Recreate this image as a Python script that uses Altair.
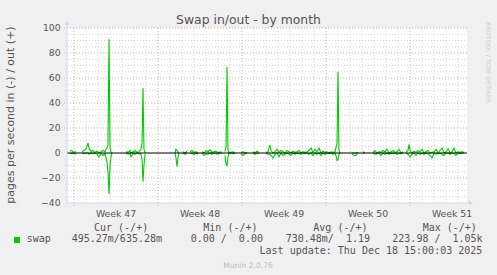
import altair as alt
import pandas as pd

# ---------------- data (days since Mon 17 Nov 2025 = start of Week 47) ----------------
days = [-0.33, -0.17, 0.0, 0.17, 0.42,
        0.67, 0.83, 1.0, 1.17, 1.25, 1.42, 1.58, 1.75, 1.92, 2.08, 2.25, 2.42, 2.58, 2.67, 2.75, 2.83, 2.92, 3.0, 3.08, 3.17, 3.75,
        4.33, 4.5, 4.67, 4.75, 4.92, 5.08, 5.25, 5.42, 5.58, 5.67, 5.75, 5.83, 5.92, 7.0,
        8.42, 8.5, 8.58, 8.67, 8.75, 8.9,
        9.08, 9.25, 9.42, 9.55,
        9.67, 9.83, 10.0, 10.17, 10.33, 10.5,
        10.67, 10.83, 11.0, 11.17, 11.33, 11.5, 11.67, 11.83, 12.0, 12.17, 12.33, 12.45,
        12.58, 12.67, 12.75, 12.83, 12.92, 13.08, 13.25, 13.42, 13.7,
        13.92, 14.08, 14.25, 14.42, 14.7,
        14.92, 15.08, 15.25, 15.42, 15.7,
        16.0, 16.17, 16.33, 16.42, 16.58, 16.75, 16.92, 17.08, 17.25, 17.42, 17.58, 17.75, 17.92, 18.08, 18.25, 18.42,
        18.58, 18.75, 18.92, 19.08, 19.25, 19.42, 19.58, 19.75, 19.92, 20.08, 20.25, 20.42, 20.58, 20.75, 20.92, 21.08,
        21.25, 21.42, 21.58, 21.75, 21.83, 21.92, 22.0, 22.08, 22.17, 22.6,
        23.17, 23.33, 23.5, 23.67, 23.85,
        24.08, 24.25, 24.6,
        24.92, 25.08, 25.25, 25.42, 25.58, 25.75, 25.92, 26.08, 26.25, 26.42, 26.58, 26.75, 26.92, 27.08, 27.25, 27.42, 27.55,
        27.67, 27.83, 27.92, 28.0, 28.17, 28.33, 28.5, 28.67, 28.83, 29.0, 29.17, 29.33, 29.5, 29.67, 29.83, 30.0,
        30.17, 30.33, 30.5, 30.67, 30.83, 31.0, 31.17, 31.33, 31.5, 31.67, 31.83, 32.0, 32.17, 32.33, 32.5]

swap_out = [1.5, 2.0, 0.5, 1.0, None,
            1, 2, 3, 8, 4, 1, 2, 0.5, 1.5, 0, 1, 2, 1, 3, 4, 6, 91, 5, 1, 0, None,
            1, 0.5, 2, 0, 1, 2, 0.5, 1, 3, 8, 52, 3, 0, None,
            0, 3, 2, 0.5, 0, None,
            1, 0, 1.5, None,
            1, 2, 0.5, 1, 0, None,
            1, 0, 2, 1, 2.5, 0.5, 1, 1.5, 0, 1, 0.5, None,
            1, 5, 69, 3, 0, 0.5, 1, 0, None,
            0, 1, 0, 0.5, None,
            1, 0, 1.5, 0.5, None,
            0, 1, 6.5, 2, 0, 1, 3, 0.5, 2, 1, 0, 2, 1, 0, 1.5, 0.5,
            1, 2, 0, 1, 0.5, 1, 2, 4, 0.5, 3, 1, 4, 0, 1.5, 0.5, 1,
            0, 1, 0.5, 1, 4, 8, 65, 2, 0, None,
            0, 0, 0, 0.5, None,
            1, 0, None,
            0.5, 2, 0, 1, 0.5, 2, 1, 3, 0, 1, 2, 0.5, 1, 3, 0, 1, None,
            0.5, 2, 7, 2, 0, 1.5, 0.5, 2, 1, 3, 0, 1, 2, 0, 0.5, 1,
            3, 0, 2, 4, 0, 1, 3.5, 0, 1, 4, 0, 1, 0.5, 1, 0.5]

swap_in = [0, -0.5, 0, -1.0, None,
           0, -0.5, 0, 0, -1, 0, -0.5, 0, -1, -3, -0.5, -2, -0.5, -4, -7, -15, -33, -10, -3, 0, None,
           0, -1, -0.5, -3, 0, -1, 0, -0.5, -1, -5, -23, -10, -1, None,
           0, -4, -11, -3, 0, None,
           0, -1, 0, None,
           -0.5, 0, -1.5, 0, -1, None,
           0, -2, -0.5, -1, 0, -1, 0, -0.5, -1, 0, 0, None,
           -2, -9, -10, -3, 0, 0, -0.5, 0, None,
           -1, -2, -0.5, 0, None,
           0, -1, 0, -0.5, None,
           0, -1, -1, -2, -4, -1, 0, -3, 0, -2, -1, 0, -1, -2, 0, -1,
           0, -0.5, -1, 0, -0.5, 0, -1, 0, -2, 0, -1, 0, -2, 0, -1, 0,
           -0.5, 0, -1, 0, -2, -6, -5, -1, 0, None,
           -1, -2, -2, 0, None,
           0, 0, None,
           0, -1, -0.5, 0, -2, 0, -1, 0, -1, 0, -0.5, 0, -1, 0, -0.5, 0, None,
           0, -1, -2, -3, -1, 0, -2, 0, -1, 0, -1, 0, -0.5, -2, -4, 0,
           -1, -0.5, 0, -1, -2, 0, 0, -1, 0, -0.5, -2, 0, -0.5, 0, 0]

y_ticks = [-40, -20, 0, 20, 40, 60, 80, 100]
y_minor = [-35, -30, -25, -15, -10, -5, 5, 10, 15, 25, 30, 35, 45, 50, 55, 65, 70, 75, 85, 90, 95]
y_major_grid = [-20, 20, 40, 60, 80, 100]
week_starts = [0, 7, 14, 21, 28]
day_minor = [1, 2, 3, 4, 5, 6, 8, 9, 10, 11, 12, 13, 15, 16, 17, 18, 19, 20,
             22, 23, 24, 25, 26, 27, 29, 30, 31, 32]
week_label_pos = [3.5, 10.5, 17.5, 24.5, 31.5]
week_labels = ["Week 47", "Week 48", "Week 49", "Week 50", "Week 51"]

title_text = "Swap in/out - by month"
y_title = "pages per second in (-) / out (+)"
legend_name = "swap"
legend_headers = ["Cur (-/+)", "Min (-/+)", "Avg (-/+)", "Max (-/+)"]
legend_values = ["495.27m/635.28m", "0.00 /  0.00", "730.48m/  1.19", "223.98 /  1.05k"]
last_update = "Last update: Thu Dec 18 15:00:03 2025"
footer = "Munin 2.0.76"
watermark = "RRDTOOL / TOBI OETIKER"

# ---------------- styling ----------------
GREEN = "#00CC00"
FONT_C = "#555555"
AXIS_C = "#CFD6F8"
MINOR_C = "#D4D4D4"
MAJOR_C = "#EFA0A0"
SANS = "DejaVu Sans"
MONO = "DejaVu Sans Mono"
NB = "\u00a0"

X_DOM = [-7 / 12, 393 / 12]
Y_DOM = [-40, 100]
xs = alt.Scale(domain=X_DOM, nice=False, zero=False)
ys = alt.Scale(domain=Y_DOM, nice=False, zero=False)

rows = []
for d, o, i in zip(days, swap_out, swap_in):
    rows.append({"day": d, "v": o, "s": "out"})
    rows.append({"day": d, "v": i, "s": "in"})
df = pd.DataFrame(rows)


def one():
    return pd.DataFrame({"k": [0]})


def txt(text, x, y, size, font=SANS, color=FONT_C, align="left", baseline="alphabetic", angle=0):
    kw = dict(text=text.replace(" ", NB), font=font, fontSize=size, color=color,
              align=align, baseline=baseline)
    if angle:
        kw["angle"] = angle
    return alt.Chart(one()).mark_text(**kw).encode(x=alt.value(x), y=alt.value(y))


OX, OY = 67, 28  # plot origin in page pixels

layers = []
# grids
layers.append(alt.Chart(pd.DataFrame({"d": day_minor})).mark_rule(color=MINOR_C, strokeDash=[1, 2], strokeWidth=1)
              .encode(x=alt.X("d:Q", scale=xs, axis=None), y=alt.value(0), y2=alt.value(177)))
layers.append(alt.Chart(pd.DataFrame({"v": y_minor})).mark_rule(color=MINOR_C, strokeDash=[1, 2], strokeWidth=1)
              .encode(y=alt.Y("v:Q", scale=ys, axis=None), x=alt.value(-2), x2=alt.value(400)))
layers.append(alt.Chart(pd.DataFrame({"d": week_starts})).mark_rule(color=MAJOR_C, strokeDash=[1, 2], strokeWidth=1)
              .encode(x=alt.X("d:Q", scale=xs, axis=None), y=alt.value(0), y2=alt.value(178)))
layers.append(alt.Chart(pd.DataFrame({"v": y_major_grid})).mark_rule(color=MAJOR_C, strokeDash=[1, 2], strokeWidth=1)
              .encode(y=alt.Y("v:Q", scale=ys, axis=None), x=alt.value(-3), x2=alt.value(400)))

# data lines
layers.append(alt.Chart(df).mark_line(color=GREEN, strokeWidth=1.1, invalid="break-paths-show-domains")
              .encode(x=alt.X("day:Q", scale=xs, axis=None),
                      y=alt.Y("v:Q", scale=ys, axis=None),
                      detail="s:N", order="day:Q"))

# zero line
layers.append(alt.Chart(pd.DataFrame({"v": [0]})).mark_rule(color="#000000", strokeWidth=1)
              .encode(y=alt.Y("v:Q", scale=ys, axis=None), x=alt.value(0), x2=alt.value(400)))

# axes lines + arrows
layers.append(alt.Chart(one()).mark_rule(color=AXIS_C, strokeWidth=1)
              .encode(x=alt.value(0), y=alt.value(-4), y2=alt.value(175)))
layers.append(alt.Chart(one()).mark_rule(color=AXIS_C, strokeWidth=1)
              .encode(x=alt.value(0), x2=alt.value(403), y=alt.value(175)))
layers.append(alt.Chart(one()).mark_point(shape="triangle-up", filled=True, color=AXIS_C, size=22, opacity=1)
              .encode(x=alt.value(0), y=alt.value(-5)))
layers.append(alt.Chart(one()).mark_point(shape="triangle-right", filled=True, color=AXIS_C, size=22, opacity=1)
              .encode(x=alt.value(404), y=alt.value(175)))

# tick labels
layers.append(alt.Chart(pd.DataFrame({"v": y_ticks})).mark_text(font=SANS, fontSize=9.2, color=FONT_C, align="right", baseline="middle")
              .encode(y=alt.Y("v:Q", scale=ys, axis=None), x=alt.value(-6.5), text="v:Q"))
layers.append(alt.Chart(pd.DataFrame({"d": week_label_pos, "t": week_labels}))
              .mark_text(font=SANS, fontSize=9.3, color=FONT_C, align="center", baseline="alphabetic")
              .encode(x=alt.X("d:Q", scale=xs, axis=None), y=alt.value(217 - OY), text="t:N"))

# titles
layers.append(txt(title_text, 248.5 - OX, 24 - OY, 12.4, align="center"))
layers.append(txt(y_title, 11 - OX, 115 - OY, 11, align="center", baseline="middle", angle=270))
layers.append(txt(watermark, 487.5 - OX, 22 - OY, 6.3, color="#CFCFCF", align="left", baseline="middle", angle=90))

# legend
head_x = [94, 203.3, 313.3, 422.7]
val_x = [71.7, 190.7, 285.7, 392.3]
for h, hx in zip(legend_headers, head_x):
    layers.append(txt(h, hx - OX, 230.5 - OY, 10, font=MONO))
for v, vx in zip(legend_values, val_x):
    layers.append(txt(v, vx - OX, 242 - OY, 10, font=MONO))
layers.append(alt.Chart(one()).mark_square(color=GREEN, size=36, opacity=1)
              .encode(x=alt.value(17 - OX), y=alt.value(240 - OY)))
layers.append(txt(legend_name, 26.7 - OX, 242 - OY, 10, font=MONO))
layers.append(txt(last_update, 482.3 - OX, 253.7 - OY, 10, font=MONO, align="right"))
layers.append(txt(footer, 248 - OX, 267.5 - OY, 7.6, color="#BDBDBD", align="center"))

chart = (alt.layer(*layers)
         .properties(width=400, height=175,
                     autosize=alt.AutoSizeParams(type="none"),
                     padding={"left": OX, "top": OY, "right": 30, "bottom": 72},
                     background="#F0F0F0")
         .configure_view(strokeWidth=0, fill="#FFFFFF"))

chart.save("out.html", embed_options={"renderer": "svg", "actions": False})
